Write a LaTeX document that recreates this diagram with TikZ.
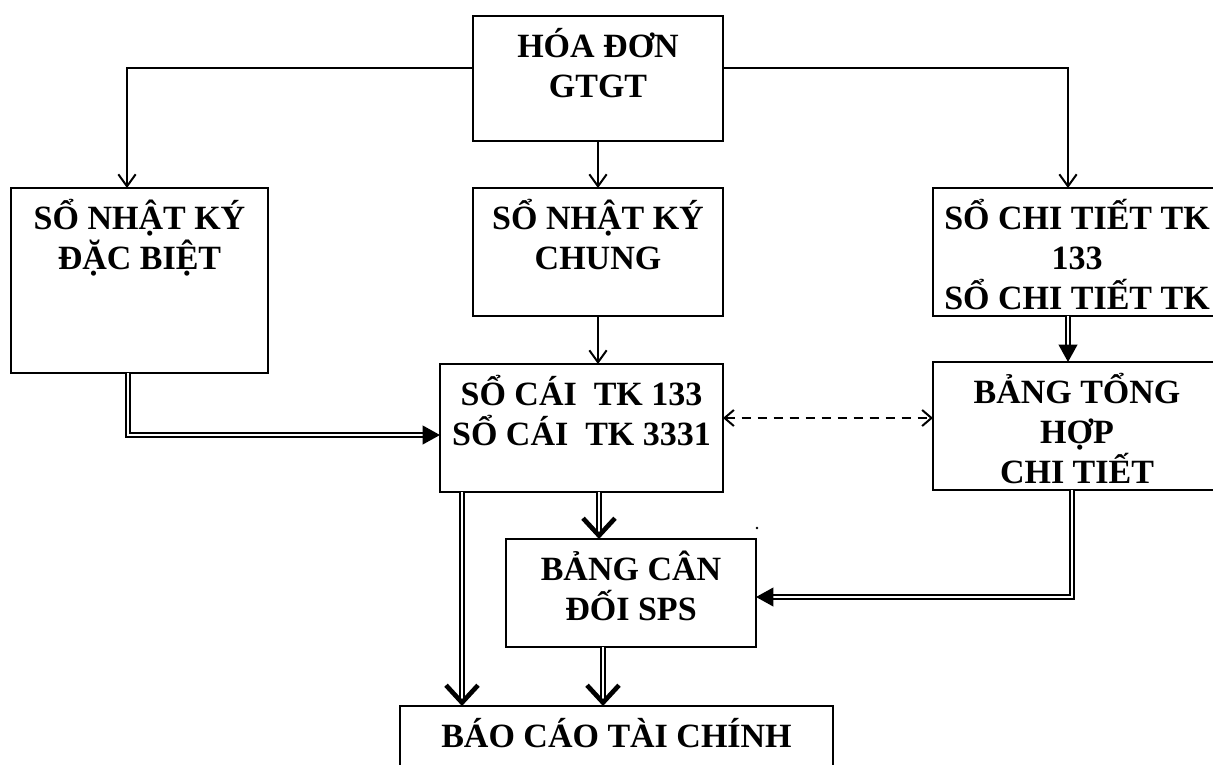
\documentclass[tikz,border=0pt]{standalone}
\usepackage{fontspec}
\setmainfont{Liberation Serif}
\usetikzlibrary{arrows.meta}
\newcommand{\chuto}{\fontsize{25.5}{30}\selectfont\bfseries\lineskiplimit=-20pt}
\newcommand{\dongdau}{\rule{0pt}{31pt}}
\tikzset{
  hop/.style={draw, line width=2pt, inner sep=0pt, outer sep=0pt},
  chu/.style={anchor=north, inner sep=0pt, align=center, font=\chuto},
  mui/.style={line width=1.5pt, -{Straight Barb[length=9pt,width=13pt]}},
  kep/.style={double, double distance=1.6pt, line width=1.4pt, -{Triangle[length=13pt,width=14pt]}},
  kepv/.style={double, double distance=1.6pt, line width=1.4pt, -{Straight Barb[length=13pt,width=24pt,line width=3.5pt]}},
  netdut/.style={line width=1.5pt, dash pattern=on 7pt off 5pt, {Straight Barb[length=7pt,width=12pt]}-{Straight Barb[length=7pt,width=12pt]}}
}
\begin{document}
\begin{tikzpicture}[x=0.75pt,y=0.75pt,yscale=-1,xscale=1]
    \useasboundingbox (0,0) rectangle (1213,764);

    \node [hop, minimum width=187.5pt, minimum height=93.75pt] (hd) at (598,78.5) {};
    \node [hop, minimum width=192.75pt, minimum height=138.75pt] (ndb) at (139.5,280.5) {};
    \node [hop, minimum width=187.5pt, minimum height=96pt] (nkc) at (598,252) {};
    \node [hop, minimum width=216pt, minimum height=96pt] (ct) at (1077,252) {};
    \node [hop, minimum width=212.25pt, minimum height=96pt] (sc) at (581.5,428) {};
    \node [hop, minimum width=216pt, minimum height=96pt] (bth) at (1077,426) {};
    \node [hop, minimum width=187.5pt, minimum height=81pt] (bcd) at (631,593) {};
    \node [hop, minimum width=324.75pt, minimum height=63pt] (bc) at (616.5,748) {};

    \node [chu] (hdt) at (hd.north) {\dongdau HÓA ĐƠN\\GTGT};
    \node [chu] (ndbt) at (ndb.north) {\dongdau SỔ NHẬT KÝ\\ĐẶC BIỆT};
    \node [chu] (nkct) at (nkc.north) {\dongdau SỔ NHẬT KÝ\\CHUNG};
    \node [chu] (ctt) at (ct.north) {\dongdau SỔ CHI TIẾT TK\\133\\SỔ CHI TIẾT TK};
    \node [chu] (sct) at (sc.north) {\dongdau SỔ CÁI~ TK 133\\SỔ CÁI~ TK 3331};
    \node [chu] (btht) at (bth.north) {\dongdau BẢNG TỔNG\\HỢP\\CHI TIẾT};
    \node [chu] (bcdt) at (bcd.north) {\dongdau BẢNG CÂN\\ĐỐI SPS};
    \node [chu] (bct) at (bc.north) {\dongdau BÁO CÁO TÀI CHÍNH};

    \coordinate (tl) at (127,68);
    \coordinate (tr) at (1068,68);
    \draw [mui] (hd.west |- tl) -- (tl) -- (ndb.north -| tl);
    \draw [mui] (hd.east |- tr) -- (tr) -- (ct.north -| tr);
    \draw [mui] (hd.south) -- (nkc.north);
    \draw [mui] (nkc.south) -- (sc.north -| nkc.south);

    \coordinate (dl) at (128,435);
    \coordinate (dn) at (727,418);
    \coordinate (cr) at (1068,0);
    \coordinate (br) at (1072,597);
    \draw [kep] (ndb.south -| dl) -- (dl) -- (sc.west |- dl);
    \draw [netdut] (sc.east |- dn) -- (bth.west |- dn);
    \draw [kep] (ct.south -| cr) -- (bth.north -| cr);
    \draw [kep] (bth.south -| br) -- (br) -- (bcd.east |- br);

    \coordinate (s1) at (462,0);
    \coordinate (s2) at (599,0);
    \coordinate (s3) at (603,0);
    \draw [kepv] (sc.south -| s2) -- (bcd.north -| s2);
    \draw [kepv] (sc.south -| s1) -- (bc.north -| s1);
    \draw [kepv] (bcd.south -| s3) -- (bc.north -| s3);

    \fill (757,528) circle (1.3);
\end{tikzpicture}
\end{document}
